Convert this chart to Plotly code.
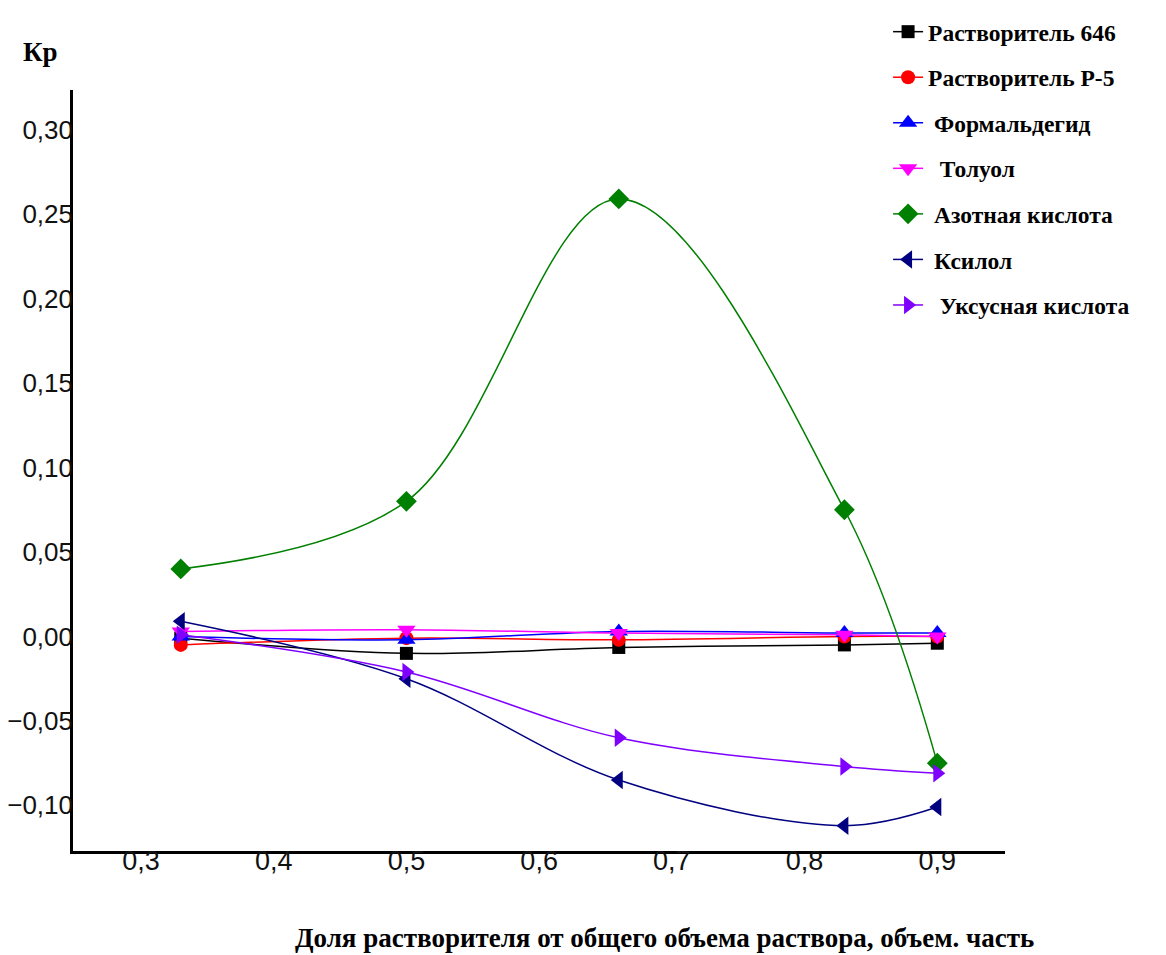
import plotly.graph_objects as go

x_vals = [0.33, 0.5, 0.66, 0.83, 0.9]

series_names = [
    "Растворитель 646",
    "Растворитель Р-5",
    " Формальдегид",
    "  Толуол",
    " Азотная кислота",
    " Ксилол",
    "  Уксусная кислота",
]

solvent_646 = [-0.001, -0.010, -0.0065, -0.005, -0.004]
solvent_p5 = [-0.005, -0.001, -0.002, 0.000, 0.000]
formaldehyde = [0.000, -0.002, 0.003, 0.002, 0.002]
toluene = [0.003, 0.004, 0.002, 0.001, 0.000]
nitric_acid = [0.040, 0.080, 0.259, 0.075, -0.075]
xylene = [0.009, -0.025, -0.085, -0.112, -0.101]
acetic_acid = [0.001, -0.021, -0.060, -0.077, -0.081]

series_values = [solvent_646, solvent_p5, formaldehyde, toluene,
                 nitric_acid, xylene, acetic_acid]

colors = ["#000000", "#ff0000", "#0000ff", "#ff00ff", "#008000", "#000080", "#8000ff"]
symbols = ["square", "circle", "triangle-up", "triangle-down", "diamond",
           "triangle-left", "triangle-right"]
sizes = [13, 14, 16, 16, 16, 16, 16]

x_ticks = [0.3, 0.4, 0.5, 0.6, 0.7, 0.8, 0.9]
y_ticks = [-0.10, -0.05, 0.00, 0.05, 0.10, 0.15, 0.20, 0.25, 0.30]

x_range = [0.2488, 0.951]
y_range = [-0.127, 0.3235]

fig = go.Figure()
for i, (name, vals) in enumerate(zip(series_names, series_values)):
    fig.add_trace(go.Scatter(
        x=x_vals, y=vals, name=name, mode="lines+markers",
        line=dict(color=colors[i], width=1.5, shape="spline", smoothing=1.0),
        marker=dict(symbol=symbols[i], size=sizes[i], color=colors[i]),
        legendgroup=str(i),
    ))

# invisible carrier trace so the label-only overlay axes get drawn
fig.add_trace(go.Scatter(
    x=x_vals, y=nitric_acid, xaxis="x2", yaxis="y2", mode="markers",
    marker=dict(opacity=0, size=1), showlegend=False, hoverinfo="skip",
))

fig.update_layout(
    width=1158, height=947,
    margin=dict(l=65, r=161, t=82, b=104, autoexpand=False),
    paper_bgcolor="white", plot_bgcolor="white",
    separators=", ",
    showlegend=True,
    legend=dict(
        xref="container", yref="container",
        x=0.760, y=0.998, xanchor="left", yanchor="top",
        font=dict(family="Liberation Serif", size=23.5, color="black", weight="bold"),
        tracegroupgap=12, bgcolor="rgba(0,0,0,0)",
    ),
    xaxis=dict(
        range=x_range, tickvals=x_ticks,
        showline=True, linecolor="black", linewidth=3, showgrid=False,
        zeroline=False, ticks="", showticklabels=False, automargin=False,
    ),
    xaxis2=dict(
        range=x_range, tickvals=x_ticks, tickformat=".1f",
        overlaying="x", anchor="free", position=0.0118, side="bottom",
        showline=False, showgrid=False, zeroline=False, ticks="", automargin=False,
        tickfont=dict(family="Liberation Sans", size=27, color="#111111"),
    ),
    yaxis=dict(
        range=y_range, tickvals=y_ticks,
        showline=True, linecolor="black", linewidth=3, showgrid=False,
        zeroline=False, ticks="", showticklabels=False, automargin=False,
    ),
    yaxis2=dict(
        range=y_range, tickvals=y_ticks, tickformat=".2f",
        overlaying="y", anchor="free", position=0.0, side="left",
        showline=False, showgrid=False, zeroline=False, ticks="", automargin=False,
        tickfont=dict(family="Liberation Sans", size=26, color="#111111"),
    ),
    annotations=[
        dict(text="Кр", xref="paper", yref="paper", x=-0.0354, y=1.05,
             showarrow=False, xanchor="center", yanchor="middle",
             font=dict(family="Liberation Serif", size=27, color="black", weight="bold")),
        dict(text="Доля растворителя от общего объема раствора, объем. часть",
             xref="paper", yref="paper", x=0.635, y=-0.114,
             showarrow=False, xanchor="center", yanchor="middle",
             font=dict(family="Liberation Serif", size=27, color="black", weight="bold")),
    ],
)

fig.write_html("out.html")
